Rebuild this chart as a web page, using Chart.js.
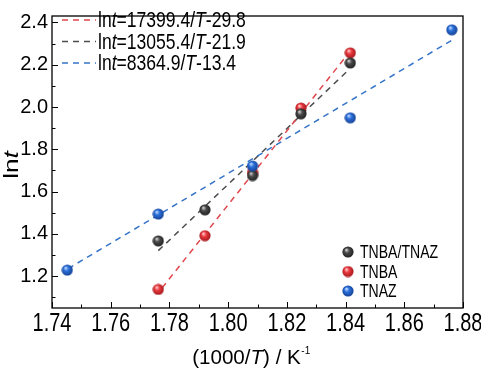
<!DOCTYPE html>
<html>
<head>
<meta charset="utf-8">
<script src="https://cdn.jsdelivr.net/npm/chart.js@4.4.0/dist/chart.umd.min.js"></script>
<style>
    html, body { margin: 0; padding: 0; background: #fff; }
</style>
</head>
<body>
<canvas id="lntChart" width="481" height="368"></canvas>
<script>
// tick labels
const xTicks = [1.74, 1.76, 1.78, 1.80, 1.82, 1.84, 1.86, 1.88];
const yTicks = [1.2, 1.4, 1.6, 1.8, 2.0, 2.2, 2.4];

// measured points, x = 1000/T
const blendX = [1.7762, 1.7921, 1.8083, 1.8248, 1.8416];
const blendY = [1.367, 1.514, 1.676, 1.968, 2.208];
const tnbaX = [1.7762, 1.7921, 1.8083, 1.8248, 1.8416];
const tnbaY = [1.138, 1.392, 1.690, 1.995, 2.256];
const tnazX = [1.7452, 1.7762, 1.8083, 1.8416, 1.8762];
const tnazY = [1.229, 1.494, 1.721, 1.949, 2.365];

// fitted line ends
const fitTnbaX = [1.7775, 1.8405];
const fitTnbaY = [1.145, 2.245];
const fitBlendX = [1.7762, 1.8405];
const fitBlendY = [1.321, 2.168];
const fitTnazX = [1.7455, 1.8760];
const fitTnazY = [1.236, 2.314];

const fitLabels = [
    [['ln', false], ['t', true], ['=17399.4/', false], ['T', true], ['-29.8', false]],
    [['ln', false], ['t', true], ['=13055.4/', false], ['T', true], ['-21.9', false]],
    [['ln', false], ['t', true], ['=8364.9/', false], ['T', true], ['-13.4', false]]
];
const seriesLabels = ['TNBA/TNAZ', 'TNBA', 'TNAZ'];

const FONT = '"Liberation Sans", Arial, sans-serif';
const RED_LINE = '#e0474c';
const GRAY_LINE = '#4d4d4d';
const BLUE_LINE = '#3674c8';

function pairs(xs, ys) {
    return xs.map((x, i) => ({ x: x, y: ys[i] }));
}

/**
 * Small shaded ball used as point style
 */
function makeBall(light, mid, dark) {
    const size = 12;
    const c = document.createElement('canvas');
    c.width = size;
    c.height = size;
    const g = c.getContext('2d');
    const grad = g.createRadialGradient(4.3, 3.8, 0.5, 6, 6, 6.2);
    grad.addColorStop(0, light);
    grad.addColorStop(0.35, mid);
    grad.addColorStop(1, dark);
    g.fillStyle = grad;
    g.beginPath();
    g.arc(6, 6, 5.6, 0, Math.PI * 2);
    g.fill();
    return c;
}

const grayBall = makeBall('#c8c8c8', '#4a4a4a', '#1c1c1c');
const redBall = makeBall('#ffc4c4', '#ea3b40', '#9c1217');
const blueBall = makeBall('#b6d4ff', '#2c70da', '#113c8c');

// text with italic pieces, squeezed by sx along the baseline
function drawRich(ctx, parts, x, y, size, sx) {
    ctx.save();
    ctx.translate(x, y);
    ctx.scale(sx, 1);
    let cx = 0;
    parts.forEach(p => {
        ctx.font = (p[1] ? 'italic ' : '') + size + 'px ' + FONT;
        ctx.fillText(p[0], cx, 0);
        cx += ctx.measureText(p[0]).width;
    });
    ctx.restore();
    return cx * sx;
}

function richWidth(ctx, parts, size, sx) {
    let w = 0;
    parts.forEach(p => {
        ctx.font = (p[1] ? 'italic ' : '') + size + 'px ' + FONT;
        w += ctx.measureText(p[0]).width;
    });
    return w * sx;
}

const decorPlugin = {
    id: 'decor',
    afterDraw(chart) {
        const ctx = chart.ctx;
        const a = chart.chartArea;
        const xs = chart.scales.x;
        const ys = chart.scales.y;

        ctx.save();
        ctx.strokeStyle = '#000';
        ctx.lineWidth = 1.3;
        ctx.strokeRect(a.left, a.top, a.right - a.left, a.bottom - a.top);

        // inward ticks
        ctx.lineWidth = 1;
        ctx.beginPath();
        xTicks.forEach((v, i) => {
            const px = Math.round(xs.getPixelForValue(v)) + 0.5;
            ctx.moveTo(px, a.bottom);
            ctx.lineTo(px, a.bottom - 6);
            if (i < xTicks.length - 1) {
                const m = Math.round(xs.getPixelForValue((v + xTicks[i + 1]) / 2)) + 0.5;
                ctx.moveTo(m, a.bottom);
                ctx.lineTo(m, a.bottom - 3.5);
            }
        });
        yTicks.forEach((v, i) => {
            const py = Math.round(ys.getPixelForValue(v)) + 0.5;
            ctx.moveTo(a.left, py);
            ctx.lineTo(a.left + 6, py);
            const lo = i === 0 ? v - 0.1 : (v + yTicks[i - 1]) / 2;
            const m = Math.round(ys.getPixelForValue(lo)) + 0.5;
            if (lo > ys.min) {
                ctx.moveTo(a.left, m);
                ctx.lineTo(a.left + 3.5, m);
            }
        });
        ctx.stroke();

        // x tick labels, tall and narrow like the original
        ctx.fillStyle = '#000';
        ctx.textBaseline = 'alphabetic';
        xTicks.forEach(v => {
            const t = [[v.toFixed(2), false]];
            const w = richWidth(ctx, t, 25, 0.8);
            drawRich(ctx, t, xs.getPixelForValue(v) - w / 2, 331, 25, 0.8);
        });

        // fit legend
        ctx.textBaseline = 'middle';
        const lineColors = [RED_LINE, GRAY_LINE, BLUE_LINE];
        fitLabels.forEach((parts, i) => {
            const y = 20 + i * 21.5;
            ctx.strokeStyle = lineColors[i];
            ctx.lineWidth = 1.5;
            ctx.setLineDash([6, 5]);
            ctx.beginPath();
            ctx.moveTo(62, y);
            ctx.lineTo(96, y);
            ctx.stroke();
            ctx.setLineDash([]);
            drawRich(ctx, parts, 98, y + 1, 22.5, 0.78);
        });

        // series legend
        const balls = [grayBall, redBall, blueBall];
        seriesLabels.forEach((t, i) => {
            const y = 252 + i * 19.5;
            ctx.drawImage(balls[i], 342, y - 6);
            drawRich(ctx, [[t, false]], 360, y + 1, 18.5, 0.76);
        });

        // axis titles
        ctx.textBaseline = 'alphabetic';
        const xt = [['(1000/', false], ['T', true], [') / K', false]];
        const w = richWidth(ctx, xt, 21, 0.98);
        const x0 = 250 - (w + 7) / 2;
        const end = drawRich(ctx, xt, x0, 364, 21, 0.98);
        drawRich(ctx, [['-1', false]], x0 + end + 0.5, 354, 11, 0.9);

        ctx.save();
        ctx.translate(18, 165);
        ctx.rotate(-Math.PI / 2);
        const yt = [['ln', false], ['t', true]];
        const yw = richWidth(ctx, yt, 21, 1.25);
        drawRich(ctx, yt, -yw / 2, 0, 21, 1.25);
        ctx.restore();

        ctx.restore();
    }
};

const ctx = document.getElementById('lntChart');
new Chart(ctx, {
    type: 'scatter',
    data: {
        datasets: [
            { label: 'TNAZ', data: pairs(tnazX, tnazY), pointStyle: blueBall, order: 0 },
            { label: 'TNBA/TNAZ', data: pairs(blendX, blendY), pointStyle: grayBall, order: 1 },
            { label: 'TNBA', data: pairs(tnbaX, tnbaY), pointStyle: redBall, order: 2 },
            {
                label: 'fit TNBA', data: pairs(fitTnbaX, fitTnbaY), showLine: true,
                borderColor: RED_LINE, borderWidth: 1.5, borderDash: [6, 5], pointRadius: 0, order: 5
            },
            {
                label: 'fit TNBA/TNAZ', data: pairs(fitBlendX, fitBlendY), showLine: true,
                borderColor: GRAY_LINE, borderWidth: 1.5, borderDash: [6, 5], pointRadius: 0, order: 6
            },
            {
                label: 'fit TNAZ', data: pairs(fitTnazX, fitTnazY), showLine: true,
                borderColor: BLUE_LINE, borderWidth: 1.5, borderDash: [6, 5], pointRadius: 0, order: 4
            }
        ]
    },
    options: {
        responsive: false,
        animation: false,
        layout: { padding: { left: 0, top: 4, right: 18, bottom: 0 } },
        plugins: {
            legend: { display: false },
            tooltip: { enabled: false }
        },
        scales: {
            x: {
                type: 'linear',
                min: 1.74,
                max: 1.88,
                afterBuildTicks: s => { s.ticks = xTicks.map(v => ({ value: v })); },
                afterFit: s => { s.height = 60; },
                grid: { display: false, drawTicks: false },
                border: { display: false },
                ticks: { display: false }
            },
            y: {
                type: 'linear',
                min: 1.05,
                max: 2.43,
                afterBuildTicks: s => { s.ticks = yTicks.map(v => ({ value: v })); },
                afterFit: s => { s.width = 52; },
                grid: { display: false, drawTicks: false },
                border: { display: false },
                ticks: {
                    color: '#000',
                    padding: 4,
                    font: { family: FONT, size: 20 },
                    callback: v => v.toFixed(1)
                }
            }
        }
    },
    plugins: [decorPlugin]
});
</script>
</body>
</html>
